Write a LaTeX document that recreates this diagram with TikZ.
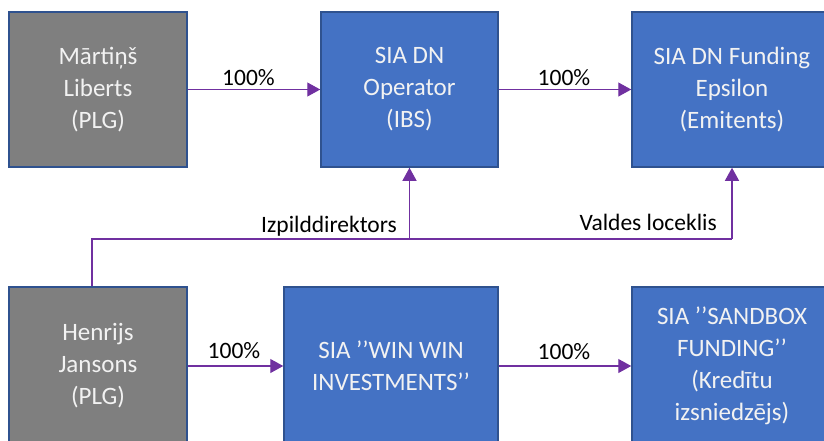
\documentclass[tikz,border=0pt]{standalone}
\usepackage{fontspec}
\setmainfont{Carlito}
\usetikzlibrary{arrows.meta,calc}
\definecolor{boxgray}{HTML}{7F7F7F}
\definecolor{boxblue}{HTML}{4472C4}
\definecolor{boxedge}{HTML}{2F528F}
\definecolor{conncol}{HTML}{7030A0}
\definecolor{boxtext}{HTML}{F2F2F2}
\begin{document}
\begin{tikzpicture}[x=1pt,y=-1pt,
  entity/.style={draw=boxedge, line width=1.5pt, text=boxtext, align=center,
    font=\fontsize{25}{32}\selectfont, inner sep=0pt},
  person/.style={entity, fill=boxgray},
  company/.style={entity, fill=boxblue},
  conn/.style={draw=conncol, line width=1.2pt, -{Triangle[length=13pt,width=14pt]}},
  plain/.style={draw=conncol, line width=1.2pt},
  lbl/.style={font=\fontsize{23.5}{28}\selectfont, text=black, inner sep=0pt}
]
\useasboundingbox (0,0) rectangle (824,440);
\clip (0,0) rectangle (824,440);
\node[person, minimum width=178pt, minimum height=155pt] (m) at (98,89.5) {\raisebox{-2pt}{\parbox{170pt}{\centering Mārtiņš\\Liberts\\(PLG)}}};
\node[company, minimum width=177pt, minimum height=155pt] (op) at (409.5,89.5) {\raisebox{-2pt}{\parbox{170pt}{\centering SIA DN\\Operator\\(IBS)}}};
\node[company, minimum width=200pt, minimum height=155pt] (eps) at (732,89.5) {\raisebox{-2pt}{\parbox{190pt}{\centering SIA DN Funding\\Epsilon\\(Emitents)}}};
\node[person, minimum width=178pt, minimum height=158pt] (h) at (98,366) {\raisebox{-2pt}{\parbox{170pt}{\centering Henrijs\\Jansons\\(PLG)}}};
\node[company, minimum width=214pt, minimum height=158pt] (win) at (391,366) {\raisebox{-2pt}{\parbox{205pt}{\centering SIA ’’WIN WIN\\INVESTMENTS’’}}};
\node[company, minimum width=200pt, minimum height=158pt] (sb) at (732,366) {\raisebox{-2pt}{\parbox{190pt}{\centering SIA ’’SANDBOX\\FUNDING’’\\(Kredītu\\izsniedzējs)}}};

\draw[conn] (m.east) -- (op.west);
\node[lbl, anchor=base] (l1) at (248.5,85) {100\%};
\draw[conn] (op.east) -- (eps.west);
\node[lbl, anchor=base] (l2) at (564,85) {100\%};
\draw[conn] (h.east) -- (win.west);
\node[lbl, anchor=base] (l3) at (234,358) {100\%};
\draw[conn] (win.east) -- (sb.west);
\node[lbl, anchor=base] (l4) at (564,359) {100\%};

\coordinate (yl) at (0,239);
\coordinate (hs) at ($(h.north)+(-6,0)$);
\draw[plain] (hs) |- (op.south |- yl);
\draw[conn] (op.south |- yl) -- (op.south);
\draw[plain] (op.south |- yl) -- (eps.south |- yl);
\draw[conn] (eps.south |- yl) -- (eps.south);
\node[lbl, anchor=base east] (l5) at (397,232) {Izpilddirektors};
\node[lbl, anchor=base east] (l6) at (717,230) {Valdes loceklis};
\end{tikzpicture}
\end{document}
